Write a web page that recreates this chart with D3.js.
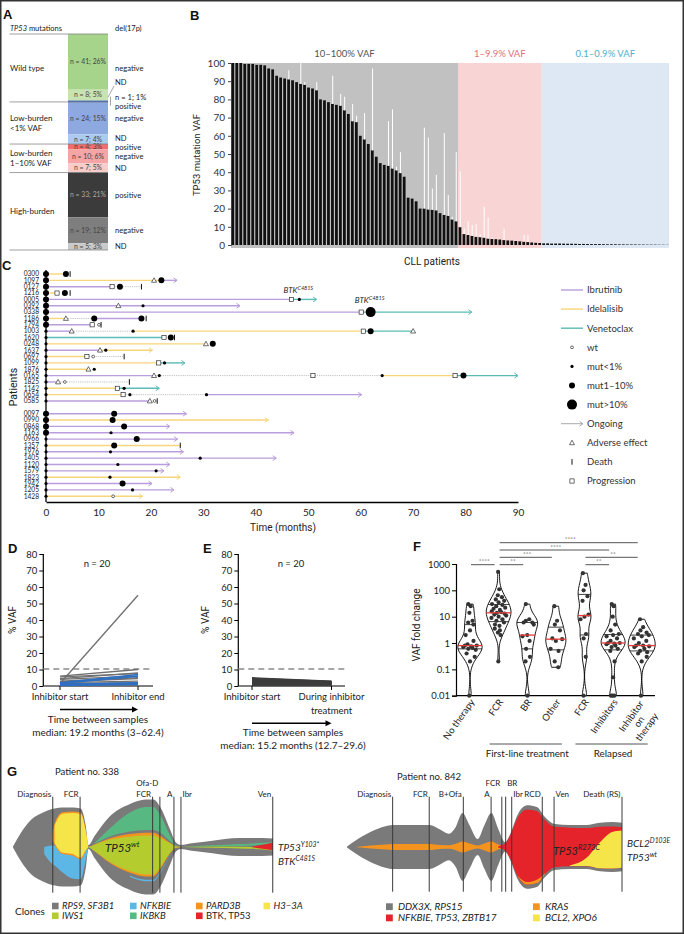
<!DOCTYPE html>
<html><head><meta charset="utf-8">
<script src="https://cdn.jsdelivr.net/npm/d3@7/dist/d3.min.js"></script>
<style>html,body{margin:0;padding:0;background:#fff;} svg{display:block;}</style>
</head><body>
<svg id="chart" width="684" height="934"></svg>
<script>
// ================= DATA =================
// Panel A
const aGroupLabels = [["Wild type"], ["Low-burden", "<1% VAF"], ["Low-burden", "1–10% VAF"], ["High-burden"]];
const aSegGroup = [0, 0, 0, 1, 1, 2, 2, 2, 3, 3, 3];
const aSegN = [41, 8, 1, 24, 7, 4, 10, 7, 33, 19, 5];
const aSegPct = [26, 5, 1, 15, 4, 3, 6, 5, 21, 12, 3];
const aSegDel = ["negative", "ND", "positive", "negative", "ND", "positive", "negative", "ND", "positive", "negative", "ND"];

// Panel B
const bRegionLabels = ["10–100% VAF", "1–9.9% VAF", "0.1–0.9% VAF"];
const bHighVAF = [100,100,100,99.5,99.5,99.5,99,99,98.7,97,96.5,93,92,91.5,91,90.5,89.5,88.5,88,86.5,86,85,80,79.5,78.5,77.5,77,76.5,74,72,68,67.5,60,58,55.5,52,48.5,45,44,43.5,42,41,39.5,37.5,26,25.5,24,20,20,19.5,19.3,19,17.5,16.5,16,14,13];
const bMidVAF = [9.8,6,5.5,5,4.5,4.3,4,3.5,3.3,3.2,3,2.7,2.5,2.4,2.2,2,1.8,1.6,1.4,1.2,1.1];
const bLowVAF = [0.9,0.9,0.85,0.8,0.8,0.75,0.7,0.7,0.65,0.6,0.6,0.55,0.5,0.5,0.5,0.45,0.4,0.4,0.4,0.35,0.35,0.3,0.3,0.3,0.25,0.25,0.2,0.2,0.2,0.15,0.15,0.1];
const bSecondIdx = [14,17,18,21,25,27,28,30,31,33,35,39,40,41,42,48,49,50,51,53,54,55,56,57,58,59,60,61,62,63,64,65,68,73,74,80,87];
const bSecondVAF = [96,100,89.5,89.5,93,83,81.5,77.5,71,72.5,97,68,74.5,43,51,64.5,59,31,38.5,61.5,27.5,15.5,51,40.5,9,13,11,11.5,6,21,15,4,9,5.5,5.5,1.2,1.2];
const bTicks = [0,10,20,30,40,50,60,70,80,90,100];

// Panel C
const cPatients = ["0300","1097","0127","1216","0005","0392","0338","1186","1794","1003","1620","0248","1637","0697","1099","1876","0165","1825","1142","0654","0585","0097","0990","0868","1163","0966","1357","1976","1405","1120","1579","1823","1942","1205","1428"];
const cStartStatus = ["m1","m1","m1","m1","m1","m1","m1","m1","m1","m0","m0","m0","m0","m0","m0","m0","m0","m0","m0","m0","m0","m1","m1","m1","m1","m0","m0","m0","m0","m0","m0","m0","m0","m0","m0"];
const cTherapy = [
 ["0300",0,3.8,"Idelalisib",0],
 ["1097",0,22,"Idelalisib",0],["1097",22,25,"Ibrutinib",1],
 ["0127",0,12.6,"Ibrutinib",0],["0127",12.6,18.2,"off",0],
 ["1216",0,2.1,"Idelalisib",0],
 ["0005",0,46.8,"Ibrutinib",0],["0005",46.8,51.6,"Venetoclax",1],
 ["0392",0,37,"Ibrutinib",1],
 ["0338",0,60.1,"Ibrutinib",0],["0338",60.1,81.2,"Venetoclax",1],
 ["1186",0,3.8,"Idelalisib",0],["1186",3.8,9.2,"off",0],["1186",9.2,18.2,"Ibrutinib",0],
 ["1794",0,8.8,"Ibrutinib",0],
 ["1003",0,4.9,"Ibrutinib",0],["1003",4.9,16.6,"off",0],["1003",16.6,60.5,"Idelalisib",0],["1003",60.5,70,"Venetoclax",0],
 ["1620",0,22.5,"Venetoclax",0],
 ["0248",0,30.5,"Idelalisib",0],
 ["1637",0,10.3,"Ibrutinib",0],["1637",10.3,20.3,"Idelalisib",1],
 ["0697",0,7.8,"Idelalisib",0],["0697",7.8,14.9,"off",0],
 ["1099",0,21.5,"Idelalisib",0],["1099",21.5,26.5,"Venetoclax",1],
 ["1876",0,8.1,"Idelalisib",0],
 ["0165",0,20.6,"Ibrutinib",0],["0165",20.6,64.1,"off",0],["0165",64.1,78,"Idelalisib",0],["0165",78,90,"Venetoclax",1],
 ["1825",0,2.3,"Ibrutinib",0],["1825",2.3,15.9,"off",0],
 ["1142",0,13.6,"Idelalisib",0],["1142",13.6,21.6,"Venetoclax",1],
 ["0654",0,14.7,"Idelalisib",0],["0654",14.7,30.6,"off",0],["0654",30.6,60.2,"Ibrutinib",1],
 ["0585",0,19.8,"Ibrutinib",0],
 ["0097",0,26.8,"Ibrutinib",1],["0990",0,42.4,"Idelalisib",1],["0868",0,23.6,"Ibrutinib",1],["1163",0,47.3,"Ibrutinib",1],
 ["0966",0,25.1,"Ibrutinib",1],["1357",0,25.6,"Idelalisib",0],["1976",0,26.2,"Ibrutinib",1],["1405",0,43.9,"Ibrutinib",1],
 ["1120",0,23.6,"Ibrutinib",1],["1579",0,22.5,"Ibrutinib",1],["1823",0,25.6,"Idelalisib",1],["1942",0,20.2,"Ibrutinib",1],
 ["1205",0,24.4,"Ibrutinib",1],["1428",0,18.4,"Idelalisib",1]
];
const cEvents = [
 ["0300",3.8,"m1"],["0300",4.6,"death"],
 ["1097",20.6,"adv"],["1097",22,"m1"],
 ["0127",12.6,"prog"],["0127",14.1,"m1"],["0127",18.2,"death"],
 ["1216",2.1,"prog"],["1216",3.6,"m1"],["1216",4.6,"death"],
 ["0005",46.8,"prog"],["0005",48.3,"m0"],
 ["0392",13.8,"adv"],["0392",18.5,"m0"],
 ["0338",60.1,"prog"],["0338",61.9,"m10"],
 ["1186",3.8,"adv"],["1186",9.2,"m1"],["1186",18.2,"m1"],["1186",19.1,"death"],
 ["1794",8.8,"prog"],["1794",10.1,"wt"],["1794",10.5,"death"],
 ["1003",4.9,"adv"],["1003",16.6,"m0"],["1003",60.5,"prog"],["1003",61.9,"m1"],["1003",70,"adv"],
 ["1620",22.5,"prog"],["1620",23.8,"m1"],["1620",24.5,"death"],
 ["0248",30.5,"adv"],["0248",31.8,"m1"],
 ["1637",10.3,"adv"],["1637",11.4,"m0"],
 ["0697",7.8,"prog"],["0697",9,"wt"],["0697",14.9,"death"],
 ["1099",21.5,"prog"],["1099",22.6,"m0"],
 ["1876",8.1,"adv"],["1876",9.2,"m0"],
 ["0165",20.6,"adv"],["0165",21.6,"m0"],["0165",50.9,"prog"],["0165",64.1,"m0"],["0165",78,"prog"],["0165",79.6,"m1"],
 ["1825",2.3,"adv"],["1825",3.6,"wt"],["1825",15.9,"death"],
 ["1142",13.6,"prog"],["1142",14.9,"m0"],
 ["0654",14.7,"prog"],["0654",16,"m0"],["0654",30.6,"m0"],
 ["0585",19.8,"adv"],["0585",20.7,"wt"],["0585",21.2,"death"],
 ["0097",13,"m1"],["0990",12.7,"m1"],["0868",14.9,"m1"],["1163",12.4,"m0"],["0966",17.3,"m1"],
 ["1357",13,"m1"],["1357",25.6,"death"],["1976",12.3,"m0"],["1405",29.4,"m0"],["1120",13.7,"m0"],
 ["1579",21,"m0"],["1823",12.2,"m0"],["1942",14.6,"m1"],["1205",16.5,"m0"],["1428",12.8,"wt"]
];
const cMutLabels = [["0005",48.3,"BTK","C481S"],["0338",61.9,"BTK","C481S"]];
const cLegendLabels = ["Ibrutinib","Idelalisib","Venetoclax","wt","mut<1%","mut1–10%","mut>10%","Ongoing","Adverse effect","Death","Progression"];
const cLegendKinds = ["Ibrutinib","Idelalisib","Venetoclax","wt","m0","m1","m10","ongoing","adv","death","prog"];
const cTicks = [0,10,20,30,40,50,60,70,80,90];

// Panel D
const dCategories = ["Inhibitor start", "Inhibitor end"];
const dStartVAF = [6,5.5,4.5,4,3,2.5,2,1.5,1,1,0.8,0.5,1.5,0.3,0.2,2,1.5,1,0.5,0.3];
const dEndVAF   = [10,7.5,8,6,5,4.5,3,2,1.5,1,0.5,1,55,0.3,0.2,7,6,2,1.5,1];
const dClass    = ["g","g","g","g","g","g","g","g","g","g","g","g","g","g","g","b","b","b","b","b"];
const vafTicks = [0,10,20,30,40,50,60,70,80];

// Panel E
const eCategories = ["Inhibitor start", "During inhibitor treatment"];
const eStartVAF = [5,4.6,4.3,4,3.8,3.5,3.2,3,2.8,2.5,2.2,2,1.8,1.5,1.2,1,0.8,0.6,0.4,0.2];
const eEndVAF   = [3,2.8,2.7,2.5,2.4,2.3,2.2,2,1.9,1.8,1.6,1.5,1.3,1.2,1,0.9,0.7,0.5,0.4,0.2];

// Panel F
const fCategories = ["No therapy","FCR","BR","Other","FCR","Inhibitors","Inhibitor on therapy"];
const fNoTherapy = [30,25,14,7,6,5,3,2,1.2,0.9,0.8,0.8,0.75,0.7,0.65,0.6,0.55,0.4,0.3,0.2,0.01];
const fFCRFirst = [500,110,65,55,45,40,35,30,28,25,22,20,18,16,15,14,13,12,11,10,9,8,7,6,5,4.5,3.5,3,2.5,2,0.2];
const fBR = [30,8,7,6,6,5,2,1.8,1.2,0.6,0.3,0.2,0.01];
const fOther = [25,7,5,3,1.5,1.4,1.2,0.6,0.5,0.2,0.12];
const fFCRRelapsed = [450,160,100,60,40,12,10,8,2.2,1.5,0.3,0.01];
const fInhibitors = [30,25,10,5,3,2.2,2,1.8,1.5,1.2,1,1,0.95,0.9,0.8,0.7,0.6,0.5,0.2,0.05,0.01,0.01,0.01];
const fInhOnTherapy = [8,4,3,2.5,2.2,2,1.8,1.5,1.2,1,0.75,0.8,0.8,0.7,0.6,0.5,0.45,0.4,0.3,0.2,0.01];
const fTicks = [0.01,0.1,1,10,100,1000];
const fSigPairs = [[1,6,"****",0],[1,5,"****",1],[1,3,"***",2],[4,6,"**",2],[0,1,"****",3],[1,2,"**",3],[4,5,"**",3]];
const fBrackets = [["First-line treatment",1,3],["Relapsed",4,6]];

// Panel G  (fish plots: relative time, total tumour burden, clone fraction bands)
const fish1Times  = [0,3,6.5,12,15,16,19,23,26,28,29,31.5,37,45,51,54,56.5,60.5,62.5,64.5,68,76,87,92,96,100];
const fish1Burden = [0.01,0.28,0.52,0.7,0.76,0.77,0.79,0.79,0.77,0.42,0.04,0.23,0.6,0.86,0.95,0.95,0.81,0.34,0.1,0.04,0.07,0.12,0.18,0.18,0.18,0.17];
const fish1NFKBIE = [[12,0.40,0.5],[15,0.28,0.52],[16,0.26,0.52],[19,0.18,0.46],[23,0.1,0.4],[26,0.08,0.36],[28,0.2,0.42],[29,0.46,0.5]];
const fish1NFKBIELate = [[45,0.15,0.165],[51,0.14,0.155],[54,0.14,0.155],[56.5,0.17,0.185],[60.5,0.3,0.31]];
const fish1PARD3B = [[15,0.6,0.64],[16,0.53,0.8],[19,0.41,0.94],[23,0.39,0.95],[26,0.34,0.95],[28,0.4,0.9],[29,0.47,0.53],[31.5,0.3,0.62],[37,0.24,0.64],[45,0.2,0.65],[51,0.19,0.65],[54,0.19,0.65],[56.5,0.22,0.64],[60.5,0.32,0.62],[62.5,0.4,0.6],[64.5,0.45,0.55]];
const fish1H33A = [[16,0.55,0.78],[19,0.43,0.92],[23,0.41,0.93],[26,0.36,0.93],[28,0.42,0.88],[29,0.48,0.52]];
const fish1IWS1 = [[29,0.49,0.51],[31.5,0.32,0.6],[37,0.26,0.62],[45,0.22,0.62],[51,0.21,0.62],[54,0.21,0.62],[56.5,0.24,0.61],[60.5,0.34,0.6],[62.5,0.42,0.58],[64.5,0.47,0.53],[68,0.46,0.54],[76,0.44,0.54],[87,0.42,0.52],[92,0.4,0.5],[96,0.36,0.44],[100,0.3,0.34]];
const fish1IKBKB = [[31.5,0.64,0.68],[37,0.67,0.8],[45,0.68,0.9],[51,0.68,0.92],[54,0.68,0.92],[56.5,0.68,0.9],[60.5,0.66,0.82],[62.5,0.62,0.7],[64.5,0.56,0.6],[68,0.56,0.62],[76,0.56,0.64],[87,0.56,0.66],[92,0.58,0.7],[96,0.62,0.74],[100,0.66,0.78]];
const fish1BTKTP53 = [[92,0.49,0.51],[96,0.4,0.62],[100,0.31,0.76]];
const fish1EventNames = ["Diagnosis","FCR","FCR","Ofa-D","A","Ibr","Ven"];
const fish1EventTimes = [15.3,25.8,53.7,56.5,61.9,64.6,99.9];
const fish1Clones = ["RPS9, SF3B1","NFKBIE","PARD3B","H3−3A","IWS1","IKBKB","BTK, TP53"];

const fish2Times  = [0,3,8.5,14,16.5,23,30,34,37,39.5,42,44.5,47.5,50,52.5,55,57.5,59.5,62,65.5,69,72,75.5,81,87,92,96.5,100];
const fish2Burden = [0.01,0.14,0.34,0.47,0.5,0.5,0.5,0.39,0.3,0.45,0.77,0.5,0.18,0.5,0.77,0.41,0.11,0.32,0.73,0.95,0.91,0.68,0.52,0.5,0.5,0.55,0.57,0.55];
const fish2KRAS = [[3,0.49,0.51],[8.5,0.45,0.55],[14,0.44,0.56],[16.5,0.43,0.57],[23,0.43,0.57],[30,0.43,0.57],[34,0.44,0.56],[37,0.43,0.57],[39.5,0.42,0.58],[42,0.42,0.58],[44.5,0.42,0.58],[47.5,0.4,0.6],[50,0.42,0.58],[52.5,0.42,0.58],[55,0.43,0.57],[57.5,0.47,0.53]];
const fish2KRASLate = [[62,0.05,0.055],[65.5,0.05,0.08],[69,0.05,0.09],[72,0.05,0.06]];
const fish2TP53 = [[55,0.48,0.52],[57.5,0.15,0.85],[59.5,0.06,0.94],[62,0.05,0.95],[65.5,0.05,0.95],[69,0.05,0.95],[72,0.05,0.95],[75.5,0.06,0.94],[81,0.06,0.94],[87,0.06,0.93],[92,0.06,0.92],[96.5,0.07,0.91],[100,0.07,0.91]];
const fish2BCL2 = [[81,0.07,0.08],[87,0.07,0.25],[92,0.06,0.6],[96.5,0.07,0.8],[100,0.07,0.84]];
const fish2EventNames = ["Diagnosis","FCR","B+Ofa","A","FCR","BR","Ibr","RCD","Ven","Death (RS)"];
const fish2EventTimes = [16.6,29.9,42.3,52.4,56.3,57.7,59.9,71,75.3,100];
const fish2Clones = ["DDX3X, RPS15","KRAS","NFKBIE, TP53, ZBTB17","BCL2, XPO6"];

// ================= STYLE =================
const F = "Lato, 'Open Sans', sans-serif";
const FN = "Roboto, 'Liberation Sans', sans-serif";
const FB = "'Liberation Sans', Arial, sans-serif";
const aColors = ["#a6d48a","#c8e3b1","#2f62b8","#8ea8e0","#aacbef","#f26d6d","#f5a5a5","#f9cccc","#3b3b3b","#7e7e7e","#c9c9c9"];
const drugColor = {Ibrutinib:"#b99ddc", Idelalisib:"#f7d57a", Venetoclax:"#5bbbb6"};
const svg = d3.select("#chart");

function txt(g, x, y, s, o = {}) {
  const t = g.append("text").attr("x", x).attr("y", y).text(s)
    .attr("font-family", o.family || F).attr("font-size", o.size || 9)
    .attr("fill", o.fill || "#222").attr("text-anchor", o.anchor || "start");
  if (o.weight) t.attr("font-weight", o.weight);
  if (o.style) t.attr("font-style", o.style);
  return t;
}
function supTxt(g, x, y, base, sup, o = {}) {
  const t = g.append("text").attr("x", x).attr("y", y)
    .attr("font-family", o.family || F).attr("font-size", o.size || 9)
    .attr("fill", "#222").attr("text-anchor", o.anchor || "start").attr("font-style", "italic");
  t.append("tspan").text(base);
  t.append("tspan").text(sup).attr("font-size", (o.size || 9) * 0.68).attr("dy", -(o.size || 9) * 0.42);
  return t;
}

svg.append("rect").attr("x", 0.75).attr("y", 0.75).attr("width", 682.5).attr("height", 932.5)
  .attr("fill", "none").attr("stroke", "#333").attr("stroke-width", 1.5);

// panel letters
[["A",3,19],["B",190,20],["C",2,270],["D",8,553],["E",203,553],["F",413,551],["G",7,776]].forEach(d =>
  txt(svg, d[1], d[2], d[0], {family: FB, size: 13, weight: "bold", fill: "#111"}));

// ================= PANEL A =================
(function () {
  const g = svg.append("g");
  const y = d3.scaleLinear().domain([0, d3.sum(aSegN)]).range([34, 250]);
  const cum = d3.cumsum(aSegN);
  const st = i => (i === 0 ? 0 : cum[i - 1]);
  const h = g.append("text").attr("x", 10).attr("y", 31).attr("font-family", F).attr("font-size", 7.5).attr("fill", "#222");
  h.append("tspan").text("TP53").attr("font-style", "italic");
  h.append("tspan").text(" mutations");
  txt(g, 115, 31, "del(17p)", {size: 7.5});
  const nudge = {0: 6, 4: -0.9, 5: 0.7, 6: 0.5, 7: 0.6};
  aSegN.forEach((n, i) => {
    const y0 = y(st(i)), y1 = y(cum[i]);
    g.append("rect").attr("x", 68).attr("y", y0).attr("width", 40).attr("height", y1 - y0).attr("fill", aColors[i]);
    const cy = (y0 + y1) / 2;
    if (n > 1) txt(g, 88, cy + 2.3, `n = ${n}; ${aSegPct[i]}%`, {size: 6.8, anchor: "middle", fill: i === 8 ? "#aaa" : "#444"});
    let ly = cy + 2.7 + (nudge[i] || 0);
    if (i === 1) ly = cy - 10;
    if (i === 2) ly = cy + 8;
    txt(g, 115, ly, aSegDel[i], {size: 7.6, fill: "#222"});
    if (i === 2) txt(g, 115, cy - 1.2, `n = ${n}; ${aSegPct[i]}%`, {size: 7.6, fill: "#222"});
  });
  // leader marks
  const c1 = (y(st(1)) + y(cum[1])) / 2, c2 = y(st(2));
  g.append("line").attr("x1", 114).attr("y1", c1 - 9).attr("x2", 108).attr("y2", c1 + 2).attr("stroke", "#666").attr("stroke-width", 0.6);
  g.append("line").attr("x1", 110.5).attr("y1", c2 - 4).attr("x2", 110.5).attr("y2", c2 + 5).attr("stroke", "#666").attr("stroke-width", 0.6);
  // group lines and labels
  g.append("line").attr("x1", 9.5).attr("x2", 108).attr("y1", 34).attr("y2", 34).attr("stroke", "#777").attr("stroke-width", 0.7);
  aGroupLabels.forEach((lab, gi) => {
    const idx = aSegGroup.map((v, i) => v === gi ? i : -1).filter(v => v >= 0);
    const y0 = y(st(idx[0])), y1 = y(cum[idx[idx.length - 1]]);
    g.append("line").attr("x1", 9.5).attr("x2", 108).attr("y1", y1).attr("y2", y1).attr("stroke", "#777").attr("stroke-width", 0.7);
    const mid = (y0 + y1) / 2;
    lab.forEach((l, k) => txt(g, 10, mid + 3 + (k - (lab.length - 1) / 2) * 10, l, {size: 8}));
  });
})();

// ================= PANEL B =================
(function () {
  const g = svg.append("g");
  const vals = bHighVAF.concat(bMidVAF, bLowVAF);
  const x = d3.scaleBand().domain(d3.range(vals.length)).range([231, 669]).paddingInner(0.3).paddingOuter(0.1);
  const y = d3.scaleLinear().domain([0, 100]).range([245, 63]);
  const counts = [bHighVAF.length, bMidVAF.length, bLowVAF.length];
  const bg = ["#c1c1c1", "#f8d4d4", "#dde8f4"];
  const lc = ["#555", "#e46f7c", "#4cb1c9"];
  let start = 0;
  counts.forEach((c, k) => {
    const x0 = k === 0 ? 231 : x(start) - x.step() * 0.15;
    const x1 = k === 2 ? 669 : x(start + c) - x.step() * 0.15;
    g.append("rect").attr("x", x0).attr("y", y(100)).attr("width", x1 - x0).attr("height", y(0) - y(100) + 3).attr("fill", bg[k]);
    txt(g, (x0 + x1) / 2, 57, bRegionLabels[k], {size: 9.5, anchor: "middle", fill: lc[k]});
    start += c;
  });
  g.selectAll("rect.bar").data(vals).join("rect").attr("class", "bar")
    .attr("x", (d, i) => x(i)).attr("width", x.bandwidth())
    .attr("y", d => y(d)).attr("height", d => y(0) - y(d)).attr("fill", "#111");
  g.selectAll("line.sec").data(bSecondIdx).join("line").attr("class", "sec")
    .attr("x1", (d) => x(d) + x.bandwidth() * 0.6).attr("x2", (d) => x(d) + x.bandwidth() * 0.6)
    .attr("y1", d => y(vals[d])).attr("y2", (d, i) => y(bSecondVAF[i]))
    .attr("stroke", "#fff").attr("stroke-width", 1);
  const ax = g.append("g").attr("transform", "translate(231,0)")
    .call(d3.axisLeft(y).tickValues(bTicks).tickSize(3).tickPadding(3));
  ax.selectAll("text").attr("font-family", F).attr("font-size", 10).attr("fill", "#333");
  ax.selectAll("line,path").attr("stroke", "#444");
  txt(g, 0, 0, "TP53 mutation VAF", {family: FN, size: 9.5, anchor: "middle"}).attr("transform", "translate(200,155) rotate(-90)");
  txt(g, 432, 265, "CLL patients", {family: FN, size: 10, anchor: "middle"});
})();

// ================= PANEL C =================
(function () {
  const g = svg.append("g");
  const x = d3.scaleLinear().domain([0, 90]).range([46, 518]);
  const rowPos = d3.scaleLinear().domain([0, 35]).range([274, 496.25]);
  const rowY = id => { const i = cPatients.indexOf(id); return rowPos(i < 21 ? i : i + 1); };
  const R = {wt: 1.4, m0: 1.6, m1: 3, m10: 5};
  function marker(gg, cx, cy, kind) {
    if (kind === "wt") gg.append("circle").attr("cx", cx).attr("cy", cy).attr("r", R.wt).attr("fill", "#fff").attr("stroke", "#111").attr("stroke-width", 0.6);
    else if (R[kind]) gg.append("circle").attr("cx", cx).attr("cy", cy).attr("r", R[kind]).attr("fill", "#000");
    else if (kind === "adv") gg.append("path").attr("d", `M${cx},${cy - 2.6}L${cx + 2.5},${cy + 1.9}L${cx - 2.5},${cy + 1.9}Z`).attr("fill", "#fff").attr("stroke", "#111").attr("stroke-width", 0.6);
    else if (kind === "prog") gg.append("rect").attr("x", cx - 2.1).attr("y", cy - 2.1).attr("width", 4.2).attr("height", 4.2).attr("fill", "#fff").attr("stroke", "#111").attr("stroke-width", 0.6);
    else if (kind === "death") gg.append("line").attr("x1", cx).attr("x2", cx).attr("y1", cy - 2.8).attr("y2", cy + 2.8).attr("stroke", "#111").attr("stroke-width", 1);
  }
  function arrow(gg, ex, ey, col) {
    gg.append("path").attr("d", `M${ex - 3.5},${ey - 2.4}L${ex},${ey}L${ex - 3.5},${ey + 2.4}`).attr("fill", "none").attr("stroke", col).attr("stroke-width", 1);
  }
  // axes
  g.append("line").attr("x1", 46).attr("x2", 46).attr("y1", 270).attr("y2", 502).attr("stroke", "#000").attr("stroke-width", 1.3);
  const ax = g.append("g").attr("transform", "translate(0,502)").call(d3.axisBottom(x).tickValues(cTicks).tickSize(0).tickPadding(7));
  ax.select("path").attr("stroke", "#000").attr("stroke-width", 1.3);
  ax.selectAll("text").attr("font-family", F).attr("font-size", 10).attr("fill", "#222");
  txt(g, 283, 531, "Time (months)", {family: FN, size: 10, anchor: "middle"});
  txt(g, 0, 0, "Patients", {family: FN, size: 10.5, anchor: "middle"}).attr("transform", "translate(17,387) rotate(-90)");
  // ids
  cPatients.forEach(p => txt(g, 39, rowY(p) + 2.3, p, {size: 6.6, anchor: "end"}));
  // therapy lines
  cTherapy.forEach(([p, s, e, drug, ong]) => {
    const yy = rowY(p);
    if (drug === "off") {
      g.append("line").attr("x1", x(s)).attr("x2", x(e)).attr("y1", yy).attr("y2", yy).attr("stroke", "#b0b0b0").attr("stroke-width", 0.8).attr("stroke-dasharray", "1.2,1");
    } else {
      g.append("line").attr("x1", x(s)).attr("x2", x(e)).attr("y1", yy).attr("y2", yy).attr("stroke", drugColor[drug]).attr("stroke-width", 1.4);
      if (ong) arrow(g, x(e), yy, drugColor[drug]);
    }
  });
  cPatients.forEach((p, i) => marker(g, x(0), rowY(p), cStartStatus[i]));
  cEvents.forEach(([p, t, k]) => marker(g, x(t), rowY(p), k));
  cMutLabels.forEach(([p, t, b, s]) => supTxt(g, x(t) - 1, rowY(p) - (p === "0338" ? 9 : 6.5), b, s, {size: 8, anchor: "middle"}));
  // legend
  const ly = d3.scaleLinear().domain([0, 10]).range([290, 481]);
  cLegendKinds.forEach((k, i) => {
    const yy = ly(i);
    if (drugColor[k]) g.append("line").attr("x1", 561).attr("x2", 583).attr("y1", yy).attr("y2", yy).attr("stroke", drugColor[k]).attr("stroke-width", 1.4);
    else if (k === "ongoing") { g.append("line").attr("x1", 561).attr("x2", 583).attr("y1", yy).attr("y2", yy).attr("stroke", "#aaa").attr("stroke-width", 1); arrow(g, 583, yy, "#aaa"); }
    else marker(g, 572, yy, k);
    txt(g, 587, yy + 3.3, cLegendLabels[i], {size: 9.5, fill: "#333"});
  });
})();

// ================= PANELS D & E =================
function slopePanel(cfg) {
  const g = svg.append("g");
  const y = d3.scaleLinear().domain([0, 80]).range([686, 554]);
  const x = d3.scalePoint().domain(cfg.cats).range(cfg.xr);
  const ax = g.append("g").attr("transform", `translate(${cfg.ax},0)`).call(d3.axisLeft(y).tickValues(vafTicks).tickSize(4).tickPadding(2));
  ax.select("path").remove();
  g.append("line").attr("x1", cfg.ax).attr("x2", cfg.ax).attr("y1", y(80)).attr("y2", y(0)).attr("stroke", "#000").attr("stroke-width", 1.2);
  ax.selectAll("line").attr("stroke", "#000");
  ax.selectAll("text").attr("font-family", F).attr("font-size", 9.5).attr("fill", "#222");
  g.append("line").attr("x1", cfg.ax).attr("x2", cfg.xend).attr("y1", y(0)).attr("y2", y(0)).attr("stroke", "#000").attr("stroke-width", 1.2);
  cfg.cats.forEach(c => g.append("line").attr("x1", x(c)).attr("x2", x(c)).attr("y1", y(0)).attr("y2", y(0) + 4).attr("stroke", "#000"));
  g.append("line").attr("x1", cfg.ax).attr("x2", cfg.xend).attr("y1", y(10) - 0.5).attr("y2", y(10) - 0.5).attr("stroke", "#8a8a8a").attr("stroke-width", 1.4).attr("stroke-dasharray", "6,4");
  const order = d3.range(cfg.s.length).sort((a, b) => (cfg.cls[a] === "b") - (cfg.cls[b] === "b"));
  order.forEach(i => {
    const col = cfg.cls[i] === "b" ? "#2e6fc2" : cfg.col;
    g.append("line").attr("x1", x(cfg.cats[0])).attr("x2", x(cfg.cats[1])).attr("y1", y(cfg.s[i])).attr("y2", y(cfg.e[i]))
      .attr("stroke", col).attr("stroke-width", cfg.cls[i] === "b" ? 1.6 : 1.3);
  });
  txt(g, cfg.nx, 566.5, "n = 20", {size: 9.5, anchor: "middle"});
  txt(g, 0, 0, "% VAF", {family: FN, size: 10, anchor: "middle"}).attr("transform", `translate(${cfg.lx},620) rotate(-90)`);
  cfg.catLines.forEach((lines, k) => lines.forEach((l, j) => txt(g, x(cfg.cats[k]), 700 + j * 14, l, {size: 9.5, anchor: "middle"})));
  const x0 = x(cfg.cats[0]), x1 = x(cfg.cats[1]);
  g.append("line").attr("x1", x0).attr("x2", x1 - 5).attr("y1", cfg.arY).attr("y2", cfg.arY).attr("stroke", "#000").attr("stroke-width", 1.4);
  g.append("path").attr("d", `M${x1 - 6},${cfg.arY - 3}L${x1},${cfg.arY}L${x1 - 6},${cfg.arY + 3}Z`).attr("fill", "#000");
  txt(g, cfg.tx, cfg.arY + 13, "Time between samples", {size: 10, anchor: "middle"});
  txt(g, cfg.tx, cfg.arY + 26, cfg.median, {size: 10, anchor: "middle"});
}
slopePanel({cats: dCategories, xr: [60, 138], ax: 43.3, xend: 153, s: dStartVAF, e: dEndVAF, cls: dClass, col: "#6f6f6f",
  nx: 97, lx: 16, catLines: [["Inhibitor start"], ["Inhibitor end"]], arY: 709.5, tx: 98, median: "median: 19.2 months (3–62.4)"});
slopePanel({cats: eCategories, xr: [252, 331.5], ax: 238.3, xend: 345, s: eStartVAF, e: eEndVAF, cls: eStartVAF.map(() => "g"), col: "#3d3d3d",
  nx: 291, lx: 209, catLines: [["Inhibitor start"], ["During inhibitor", "treatment"]], arY: 723.3, tx: 293, median: "median: 15.2 months (12.7–29.6)"});

// ================= PANEL F =================
(function () {
  const g = svg.append("g");
  const groups = [fNoTherapy, fFCRFirst, fBR, fOther, fFCRRelapsed, fInhibitors, fInhOnTherapy];
  const y = d3.scaleLog().domain([0.01, 1000]).range([695.7, 564]);
  const x = d3.scalePoint().domain(d3.range(groups.length)).range([470, 641.7]);
  const ax = g.append("g").attr("transform", "translate(456,0)").call(d3.axisLeft(y).tickValues(fTicks).tickFormat(d => String(d)).tickSize(4).tickPadding(2));
  ax.select("path").attr("stroke", "#000").attr("stroke-width", 1.2);
  ax.selectAll("line").attr("stroke", "#000");
  ax.selectAll("text").attr("font-family", F).attr("font-size", 9.5).attr("fill", "#222");
  g.append("line").attr("x1", 456).attr("x2", 655).attr("y1", 695.7).attr("y2", 695.7).attr("stroke", "#000").attr("stroke-width", 1.2);
  txt(g, 0, 0, "VAF fold change", {family: FN, size: 10, anchor: "middle"}).attr("transform", "translate(420,625) rotate(-90)");
  // KDE
  const bw = 0.28;
  const kde = (vals, v) => d3.mean(vals, u => Math.exp(-0.5 * ((v - u) / bw) ** 2)) / (bw * Math.sqrt(2 * Math.PI));
  const dens = groups.map(vals => {
    const lv = vals.map(Math.log10);
    const lo = d3.min(lv), hi = d3.max(lv);
    return d3.range(0, 41).map(k => { const v = lo + (hi - lo) * k / 40; return [v, kde(lv, v)]; });
  });
  const maxD = d3.max(dens.flat(), d => d[1]);
  const wScale = d3.scaleLinear().domain([0, maxD]).range([0, 13.5]);
  const jit = [-0.8, 0.3, -0.2, 0.7, -0.5, 0.9, 0, -0.9, 0.5, -0.3, 0.8, -0.6, 0.15];
  groups.forEach((vals, gi) => {
    const cx = x(gi);
    const area = d3.area().y(d => y(10 ** d[0])).x0(d => cx - wScale(d[1])).x1(d => cx + wScale(d[1])).curve(d3.curveCatmullRom);
    g.append("path").attr("d", area(dens[gi])).attr("fill", "#fff").attr("stroke", "#000").attr("stroke-width", 0.9);
    const lv = vals.map(Math.log10);
    const sorted = vals.slice().sort(d3.ascending);
    const q = [d3.quantile(sorted, 0.25), d3.quantile(sorted, 0.75)];
    const hw = v => wScale(kde(lv, Math.log10(v)));
    q.forEach(v => g.append("line").attr("x1", cx - hw(v)).attr("x2", cx + hw(v)).attr("y1", y(v)).attr("y2", y(v)).attr("stroke", "#111").attr("stroke-width", 0.8));
    vals.forEach((v, i) => g.append("circle").attr("cx", cx + hw(v) * 0.7 * jit[i % jit.length]).attr("cy", y(v)).attr("r", 2.1).attr("fill", "#333"));
    const md = d3.median(vals);
    g.append("line").attr("x1", cx - hw(md)).attr("x2", cx + hw(md)).attr("y1", y(md)).attr("y2", y(md)).attr("stroke", "#e63b35").attr("stroke-width", 1.3);
    // label
    const lab = fCategories[gi];
    if (lab === "Inhibitor on therapy") {
      const t = g.append("g").attr("transform", `translate(${cx - 2.7},721.7) rotate(-55)`);
      ["Inhibitor", "on", "therapy"].forEach((l, j) => txt(t, 0, (j - 1) * 9.5 + 3.3, l, {size: 9.5, anchor: "middle"}));
    } else {
      txt(g, 0, 0, lab, {size: 9.5, anchor: "end"}).attr("transform", `translate(${cx + 5},702) rotate(-55)`);
    }
  });
  fBrackets.forEach(([lab, a, b]) => {
    g.append("line").attr("x1", x(a) - 9).attr("x2", x(b) + 6).attr("y1", 744).attr("y2", 744).attr("stroke", "#555").attr("stroke-width", 1);
    txt(g, (x(a) + x(b)) / 2, 757, lab, {size: 9.8, anchor: "middle"});
  });
  const lvY = [542.7, 550, 557.3, 564.7];
  fSigPairs.forEach(([a, b, s, lv]) => {
    g.append("line").attr("x1", x(a) + 1).attr("x2", x(b) - 4).attr("y1", lvY[lv]).attr("y2", lvY[lv]).attr("stroke", "#555").attr("stroke-width", 1);
    txt(g, (x(a) + x(b)) / 2, lvY[lv] - 1.5, s, {size: 6.5, anchor: "middle", fill: "#666"});
  });
})();

// ================= PANEL G =================
function drawFish(cfg) {
  const g = svg.append("g");
  const x = d3.scaleLinear().domain([0, 100]).range(cfg.xr);
  const bMap = new Map(cfg.times.map((t, i) => [t, cfg.burden[i]]));
  const yOf = (t, f) => cfg.cy + (0.5 - f) * 2 * bMap.get(t) * cfg.H;
  const area = d3.area().x(d => x(d[0])).y0(d => yOf(d[0], d[1])).y1(d => yOf(d[0], d[2])).curve(d3.curveMonotoneX);
  g.append("path").attr("d", area(cfg.times.map(t => [t, 0, 1]))).attr("fill", cfg.base);
  cfg.layers.forEach(L => g.append("path").attr("d", area(L[0])).attr("fill", L[1]));
  cfg.evTimes.forEach((t, i) => {
    const xx = x(t);
    g.append("line").attr("x1", xx).attr("x2", xx).attr("y1", cfg.ly[0]).attr("y2", cfg.ly[1]).attr("stroke", "#3a3a3a").attr("stroke-width", 1);
    const an = cfg.anchors[i];
    txt(g, an === "end" ? xx - 1.5 : xx + 1.5, cfg.rows[i] ? 786 : 797, cfg.evNames[i], {size: 8, anchor: an});
  });
  txt(g, cfg.titleX, cfg.titleY, cfg.title, {size: 9.5});
  return {g, x};
}
(function () {
  const C = {gray: "#7a7a7a", lime: "#b5cc2e", blue: "#5cb7e6", green: "#57b882", orange: "#f5931f", red: "#e4232a", yellow: "#f6e548"};
  const f1 = drawFish({xr: [13, 273], cy: 847, H: 50, times: fish1Times, burden: fish1Burden, base: C.gray,
    layers: [[fish1NFKBIE, C.blue], [fish1PARD3B, C.orange], [fish1H33A, C.yellow], [fish1IWS1, C.lime], [fish1NFKBIELate, C.blue], [fish1IKBKB, C.green], [fish1BTKTP53, C.red]],
    evTimes: fish1EventTimes, evNames: fish1EventNames, anchors: ["end","end","end","end","end","start","end"], rows: [0,0,0,1,0,0,0],
    ly: [796.7, 892.7], title: "Patient no. 338", titleX: 55, titleY: 775});
  supTxt(f1.g, 105, 852, "TP53", "wt", {size: 11.5});
  supTxt(f1.g, 278, 851, "TP53", "Y103*", {size: 10});
  supTxt(f1.g, 278, 865, "BTK", "C481S", {size: 10});
  const f2 = drawFish({xr: [347, 622], cy: 847, H: 44, times: fish2Times, burden: fish2Burden, base: C.gray,
    layers: [[fish2KRAS, C.orange], [fish2TP53, C.red], [fish2KRASLate, C.orange], [fish2BCL2, C.yellow]],
    evTimes: fish2EventTimes, evNames: fish2EventNames, anchors: ["end","end","end","end","end","start","start","end","start","end"], rows: [0,0,0,0,1,1,0,0,0,0],
    ly: [796.7, 891.7], title: "Patient no. 842", titleX: 397, titleY: 780});
  supTxt(f2.g, 553, 855, "TP53", "R273C", {size: 11});
  supTxt(f2.g, 627, 847, "BCL2", "D103E", {size: 10});
  supTxt(f2.g, 627, 861, "TP53", "wt", {size: 10});
  // legends
  const lg = svg.append("g");
  txt(lg, 15, 914.5, "Clones", {size: 10});
  const leg1 = [[fish1Clones[0], C.gray, 52, 0], [fish1Clones[1], C.blue, 130, 0], [fish1Clones[2], C.orange, 196, 0], [fish1Clones[3], C.yellow, 263.5, 0],
    [fish1Clones[4], C.lime, 52, 1], [fish1Clones[5], C.green, 130, 1], [fish1Clones[6], C.red, 196, 1]];
  leg1.forEach(([n, c, xx, r]) => {
    const yy = 902.7 + r * 9.8;
    lg.append("rect").attr("x", xx).attr("y", yy).attr("width", 6.6).attr("height", 6.6).attr("fill", c);
    txt(lg, xx + 10, yy + 6.4, n, {size: 9.5, style: n === "BTK, TP53" ? null : "italic"});
  });
  const leg2 = [[fish2Clones[0], C.gray, 386, 0], [fish2Clones[1], C.orange, 533, 0], [fish2Clones[2], C.red, 386, 1], [fish2Clones[3], C.yellow, 533, 1]];
  leg2.forEach(([n, c, xx, r]) => {
    const yy = 903.3 + r * 11.2;
    lg.append("rect").attr("x", xx).attr("y", yy).attr("width", 6.8).attr("height", 6.8).attr("fill", c);
    txt(lg, xx + 12, yy + 6.6, n, {size: 10, style: "italic"});
  });
})();
</script>
</body></html>
